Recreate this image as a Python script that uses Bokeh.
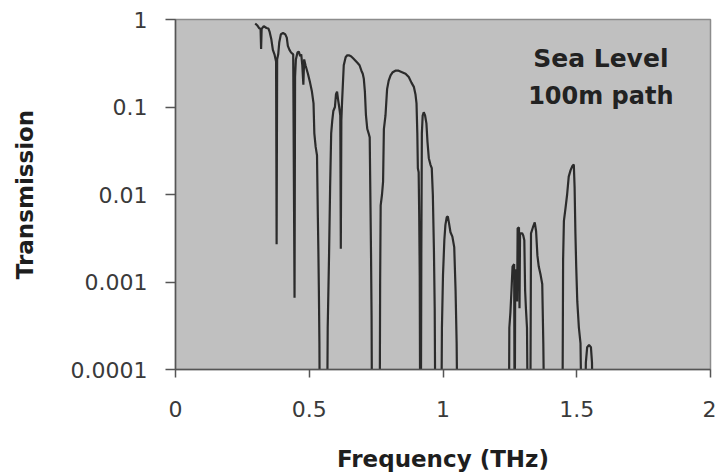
from bokeh.plotting import figure
from bokeh.models import Range1d, FixedTicker, PrintfTickFormatter, Label
from bokeh.embed import file_html
from bokeh.resources import INLINE

# ---- data ----
BELOW = 1e-5  # values below the axis floor (clipped)

freq_thz = [
    0.298, 0.305, 0.312, 0.318, 0.320, 0.322, 0.330, 0.340, 0.347, 0.352,
    0.358, 0.364, 0.370, 0.376, 0.378, 0.380, 0.384, 0.388, 0.394, 0.402,
    0.410, 0.416, 0.420, 0.426, 0.432, 0.440, 0.445, 0.447, 0.450, 0.456,
    0.461, 0.466, 0.470, 0.474, 0.478, 0.481, 0.486, 0.495, 0.503, 0.510,
    0.516, 0.519, 0.524, 0.529, 0.532, 0.534, 0.536, 0.538, 0.540,
    0.566, 0.569, 0.574, 0.578, 0.582, 0.586, 0.590, 0.596, 0.600, 0.604,
    0.608, 0.612, 0.616, 0.618, 0.620, 0.623, 0.629, 0.636, 0.642, 0.648,
    0.656, 0.664, 0.672, 0.680, 0.688, 0.695, 0.700, 0.704, 0.708, 0.712,
    0.717, 0.722, 0.726, 0.729, 0.731, 0.733, 0.735,
    0.763, 0.765, 0.767, 0.772, 0.776, 0.779, 0.785, 0.791, 0.797, 0.804,
    0.812, 0.822, 0.834, 0.847, 0.860, 0.872, 0.882, 0.891, 0.897, 0.901,
    0.904, 0.906, 0.909, 0.911, 0.913, 0.915, 0.917, 0.919, 0.921, 0.924,
    0.928, 0.933, 0.938, 0.942, 0.947, 0.953, 0.958, 0.962, 0.966, 0.969,
    0.972,
    0.993, 0.996, 1.000, 1.005, 1.009, 1.014, 1.018, 1.022, 1.028, 1.035,
    1.042, 1.047, 1.051, 1.055,
    1.246, 1.248, 1.252, 1.256, 1.260, 1.266, 1.268, 1.270, 1.274, 1.277,
    1.279, 1.284, 1.286, 1.288, 1.296, 1.300, 1.304, 1.307, 1.310, 1.314,
    1.318, 1.326, 1.329, 1.336, 1.343, 1.348, 1.353, 1.358, 1.365, 1.371,
    1.375, 1.380,
    1.446, 1.448, 1.449, 1.452, 1.458, 1.464, 1.470, 1.477, 1.483, 1.489,
    1.492, 1.495, 1.498, 1.502, 1.508, 1.514, 1.520, 1.530, 1.534, 1.539,
    1.546, 1.553, 1.557, 1.562, 1.600,
]

transmission = [
    0.90, 0.86, 0.80, 0.78, 0.46, 0.78, 0.84, 0.80, 0.79, 0.72,
    0.60, 0.45, 0.40, 0.33, 0.0027, 0.35, 0.40, 0.55, 0.68, 0.70,
    0.68, 0.62, 0.50, 0.45, 0.42, 0.40, 0.00066, 0.22, 0.35, 0.42,
    0.43, 0.38, 0.40, 0.30, 0.18, 0.35, 0.30, 0.24, 0.19, 0.15,
    0.11, 0.05, 0.035, 0.028, 0.006, 0.0024, 0.0008, 0.0002, BELOW,
    BELOW, 0.0003, 0.002, 0.012, 0.05, 0.07, 0.09, 0.10, 0.14, 0.15,
    0.12, 0.10, 0.08, 0.0024, 0.07, 0.12, 0.30, 0.37, 0.39, 0.39,
    0.38, 0.36, 0.34, 0.32, 0.30, 0.26, 0.24, 0.21, 0.15, 0.08,
    0.056, 0.050, 0.045, 0.007, 0.002, 0.0004, BELOW,
    BELOW, 0.001, 0.0075, 0.010, 0.014, 0.056, 0.08, 0.16, 0.20, 0.23,
    0.25, 0.26, 0.26, 0.25, 0.24, 0.22, 0.19, 0.17, 0.14, 0.11,
    0.05, 0.02, 0.018, 0.006, 0.0012, BELOW, BELOW, 0.002, 0.05, 0.08,
    0.087, 0.08, 0.065, 0.04, 0.026, 0.022, 0.02, 0.01, 0.0024, 0.0005,
    BELOW,
    BELOW, 0.0003, 0.0012, 0.003, 0.0045, 0.0055, 0.0056, 0.0048, 0.0037, 0.0033,
    0.0025, 0.0008, 0.0002, BELOW,
    BELOW, 0.0003, 0.00045, 0.0008, 0.0015, 0.0016, BELOW, 0.0014, 0.0012, 0.0006,
    0.0041, 0.0042, 0.0005, 0.0036, 0.0036, 0.0034, 0.0030, 0.0008, 0.0005, 0.0003,
    BELOW, BELOW, 0.0036, 0.0042, 0.0048, 0.0038, 0.0020, 0.0015, 0.0012, 0.00095,
    0.0002, BELOW,
    BELOW, 0.0003, 0.0018, 0.005, 0.007, 0.010, 0.016, 0.019, 0.021, 0.022,
    0.012, 0.0036, 0.0015, 0.0006, 0.0003, 0.0002, BELOW, BELOW, 0.00012, 0.00018,
    0.00019, 0.00018, 0.00012, BELOW, BELOW,
]

x_ticks = [0, 0.5, 1, 1.5, 2]
x_tick_labels = ["0", "0.5", "1", "1.5", "2"]
y_ticks = [0.0001, 0.001, 0.01, 0.1, 1]
y_tick_labels = ["0.0001", "0.001", "0.01", "0.1", "1"]

note_lines = ["Sea Level", "100m path"]

# ---- figure ----
p = figure(
    width=716, height=474,
    x_range=Range1d(0, 2), y_range=Range1d(0.0001, 1),
    y_axis_type="log",
    output_backend="svg", toolbar_location=None,
    min_border_left=175, min_border_right=6, min_border_top=19, min_border_bottom=105,
)
p.background_fill_color = "#c0c0c0"
p.border_fill_color = "white"
p.outline_line_color = "#8c8c8c"
p.outline_line_width = 1.5
p.grid.visible = False

p.line(freq_thz, transmission, line_color="#2b2b2b", line_width=2.2)

# notes
p.add_layout(Label(x=1.59, y=0.36, text=note_lines[0], text_align="center",
                   text_baseline="middle", text_font="DejaVu Sans",
                   text_font_style="bold", text_font_size="25px", text_color="#222222"))
p.add_layout(Label(x=1.59, y=0.135, text=note_lines[1], text_align="center",
                   text_baseline="middle", text_font="DejaVu Sans",
                   text_font_style="bold", text_font_size="24px", text_color="#222222"))

# axes
for ax in (p.xaxis[0], p.yaxis[0]):
    ax.axis_line_color = "#555555"
    ax.axis_line_width = 1.5
    ax.major_tick_line_color = "#555555"
    ax.major_tick_line_width = 1.5
    ax.major_tick_in = 0
    ax.minor_tick_line_color = None
    ax.major_label_text_font = "DejaVu Sans"
    ax.major_label_text_font_size = "22px"
    ax.major_label_text_color = "#3a3a3a"
    ax.axis_label_text_font = "DejaVu Sans"
    ax.axis_label_text_font_style = "bold"
    ax.axis_label_text_font_size = "23px"
    ax.axis_label_text_color = "#1e1e1e"

xa = p.xaxis[0]
xa.ticker = FixedTicker(ticks=x_ticks)
xa.formatter = PrintfTickFormatter(format="%g")
xa.major_label_overrides = {t: l for t, l in zip(x_ticks, x_tick_labels)}
xa.major_tick_out = 8
xa.major_label_standoff = 23
xa.axis_label = "Frequency (THz)"
xa.axis_label_standoff = 26

ya = p.yaxis[0]
ya.ticker = FixedTicker(ticks=y_ticks)
ya.formatter = PrintfTickFormatter(format="%g")
ya.major_label_overrides = {t: l for t, l in zip(y_ticks, y_tick_labels)}
ya.major_tick_out = 10
ya.major_label_standoff = 18
ya.axis_label = "Transmission"
ya.axis_label_standoff = 30

open("out.html", "w").write(file_html(p, INLINE))
